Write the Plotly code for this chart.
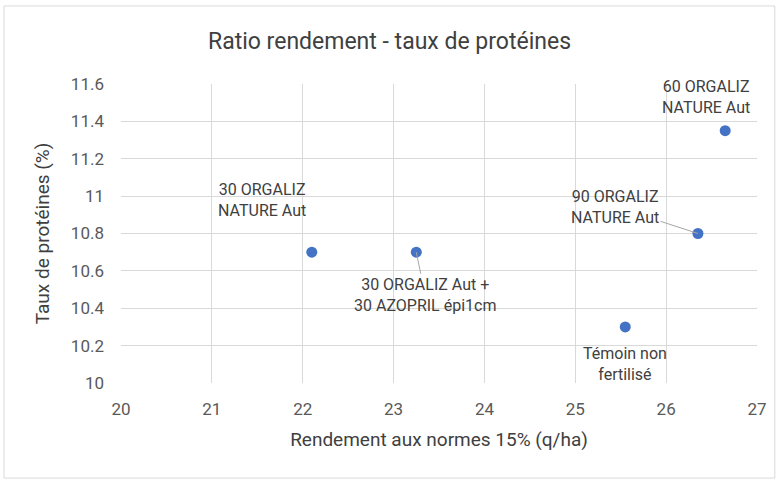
import plotly.graph_objects as go

# rendement (q/ha) et taux de protéines (%) par modalité
modalites = [
    "30 ORGALIZ<br>NATURE Aut",
    "30 ORGALIZ Aut +<br>30 AZOPRIL épi1cm",
    "Témoin non<br>fertilisé",
    "90 ORGALIZ<br>NATURE Aut",
    "60 ORGALIZ<br>NATURE Aut",
]
rendement = [22.1, 23.25, 25.55, 26.35, 26.65]
proteines = [10.7, 10.7, 10.3, 10.8, 11.35]

x_ticks = [20, 21, 22, 23, 24, 25, 26, 27]
y_ticks = [10, 10.2, 10.4, 10.6, 10.8, 11, 11.2, 11.4, 11.6]

FONT = "Roboto, sans-serif"

fig = go.Figure()
fig.add_trace(go.Scatter(
    x=rendement, y=proteines, mode="markers",
    marker=dict(size=11, color="#4472c4"),
    hoverinfo="x+y", showlegend=False,
))

# placement des étiquettes (décalages en pixels)
label_pos = [
    dict(ax=-50, ay=-52, arrow=False),
    dict(ax=9, ay=43, arrow=True),
    dict(ax=0, ay=37, arrow=False),
    dict(ax=-83, ay=-27, arrow=True),
    dict(ax=-19, ay=-34, arrow=False),
]
for txt, xv, yv, p in zip(modalites, rendement, proteines, label_pos):
    if p["arrow"]:
        fig.add_annotation(
            x=xv, y=yv, text=txt, showarrow=True, ax=p["ax"], ay=p["ay"],
            arrowhead=0, arrowwidth=1, arrowcolor="#a6a6a6", standoff=0,
            font=dict(family=FONT, size=16, color="#404040"), align="center",
        )
    else:
        fig.add_annotation(
            x=xv, y=yv, text=txt, showarrow=False,
            xshift=p["ax"], yshift=-p["ay"],
            font=dict(family=FONT, size=16, color="#404040"), align="center",
        )

# cadre du graphique
fig.add_shape(type="rect", xref="paper", yref="paper",
              x0=-0.184, x1=1.028, y0=-0.318, y1=1.261,
              line=dict(color="#d9d9d9", width=1))

fig.update_layout(
    width=779, height=480,
    margin=dict(l=121, r=22, t=84, b=97, autoexpand=False),
    paper_bgcolor="white", plot_bgcolor="white",
    font=dict(family=FONT, color="#595959"),
    title=dict(text="Ratio rendement - taux de protéines", x=0.5, xanchor="center",
               y=0.915, yanchor="middle",
               font=dict(family=FONT, size=23, color="#404040")),
)
fig.update_xaxes(
    range=[20, 27], tickvals=x_ticks, showgrid=True, gridcolor="#d9d9d9",
    zeroline=False, showline=False, ticks="", automargin=False,
    ticklabelstandoff=14, tickfont=dict(size=17, color="#595959"),
    title=dict(text="Rendement aux normes 15% (q/ha)", standoff=14,
               font=dict(size=19, color="#404040")),
)
fig.update_yaxes(
    range=[10, 11.6], tickvals=y_ticks, ticktext=[f"{v:g}" for v in y_ticks],
    showgrid=True, gridcolor="#d9d9d9", zeroline=False, showline=False, ticks="",
    automargin=False, ticklabelstandoff=16, tickfont=dict(size=17, color="#595959"),
    title=dict(text="Taux de protéines (%)", standoff=16,
               font=dict(size=19, color="#404040")),
)

# pas de marge de page autour de la figure, pas de barre d'outils
fig.write_html("out.html", config={"displayModeBar": False},
               post_script="document.body.style.margin='0';")
